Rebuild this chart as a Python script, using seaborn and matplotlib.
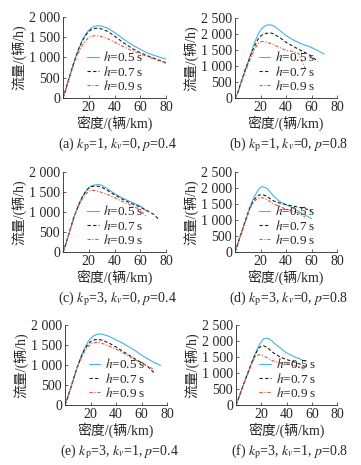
import matplotlib
matplotlib.use("Agg")
import matplotlib.pyplot as plt
from matplotlib.ticker import FuncFormatter
import seaborn as sns

# -----------------------
# Data
# -----------------------
# density grid (veh/km); each curve uses the first len(flow) points
dens = [0, 2, 5, 8, 10, 12, 15, 18, 20, 22, 25, 28, 30, 35, 40, 45, 50, 55, 60, 65, 70, 75, 80]

# (a) kp=1, kv=0, p=0.4
a_h05 = [0, 200, 520, 830, 1020, 1200, 1420, 1590, 1670, 1730, 1775, 1785, 1775, 1720, 1620, 1500, 1390, 1290, 1200, 1120, 1060, 1010, 960]
a_h07 = [0, 200, 520, 830, 1020, 1195, 1410, 1570, 1640, 1690, 1720, 1720, 1705, 1640, 1530, 1410, 1300, 1200, 1120, 1050, 990, 930, 870]
a_h09 = [0, 190, 500, 790, 970, 1120, 1300, 1430, 1490, 1525, 1540, 1530, 1515, 1460, 1380, 1300, 1220, 1150, 1090, 1030, 970, 915, 860]

# (b) kp=1, kv=0, p=0.8
b_h05 = [0, 150, 520, 880, 1100, 1340, 1700, 1980, 2120, 2210, 2280, 2285, 2260, 2120, 1950, 1830, 1730, 1650, 1580, 1480, 1370]
b_h07 = [0, 150, 520, 880, 1090, 1300, 1600, 1830, 1930, 1990, 2025, 2030, 2010, 1890, 1740, 1630, 1520, 1420, 1310, 1140]
b_h09 = [0, 140, 480, 820, 1020, 1220, 1500, 1700, 1755, 1765, 1745, 1700, 1670, 1580, 1490, 1460, 1390, 930]

# (c) kp=3, kv=0, p=0.4
c_h05 = [0, 180, 500, 820, 1000, 1170, 1380, 1530, 1600, 1650, 1680, 1685, 1670, 1570, 1460, 1370, 1290, 1220, 1150, 1020]
c_h07 = [0, 180, 500, 820, 1000, 1170, 1380, 1530, 1600, 1635, 1650, 1640, 1620, 1530, 1430, 1340, 1260, 1190, 1120, 1040, 950, 800]
c_h09 = [0, 180, 490, 800, 980, 1140, 1330, 1460, 1520, 1540, 1535, 1510, 1490, 1430, 1360, 1280, 1210, 1140, 1050, 870]

# (d) kp=3, kv=0, p=0.8
d_h05 = [0, 240, 600, 960, 1200, 1430, 1720, 1930, 2020, 2040, 1990, 1860, 1760, 1580, 1480, 1380, 1270, 1160, 1040]
d_h07 = [0, 240, 600, 960, 1200, 1420, 1640, 1760, 1790, 1790, 1740, 1650, 1600, 1530, 1480, 1440, 1400, 1350, 1300]
d_h09 = [0, 230, 580, 930, 1160, 1370, 1580, 1680, 1700, 1690, 1640, 1560, 1510, 1420, 1340, 1280, 1220, 1090]

# (e) kp=3, kv=1, p=0.4
e_h05 = [0, 180, 480, 790, 980, 1160, 1390, 1580, 1660, 1720, 1770, 1775, 1765, 1710, 1630, 1550, 1460, 1360, 1250, 1150, 1060, 990]
e_h07 = [0, 180, 480, 790, 980, 1150, 1370, 1520, 1580, 1620, 1640, 1630, 1610, 1540, 1450, 1350, 1250, 1150, 1060, 960, 800]
e_h09 = [0, 175, 470, 770, 950, 1110, 1320, 1460, 1520, 1550, 1565, 1555, 1530, 1470, 1400, 1310, 1220, 1130, 1050, 970, 880]

# (f) kp=3, kv=1, p=0.8
f_h05 = [0, 210, 540, 860, 1070, 1280, 1580, 1850, 1980, 2070, 2090, 2020, 1940, 1780, 1630, 1530, 1450, 1360]
f_h07 = [0, 210, 540, 860, 1070, 1280, 1560, 1780, 1840, 1850, 1790, 1680, 1620, 1500, 1420, 1360, 1290, 1200]
f_h09 = [0, 200, 520, 840, 1040, 1240, 1500, 1570, 1560, 1530, 1470, 1400, 1370, 1320, 1300, 1250, 1190, 1105]

h_labels = [r"$h$=0.5 s", r"$h$=0.7 s", r"$h$=0.9 s"]
captions = [
    r"(a) $k_{\mathrm{p}}$=1, $k_v$=0, $p$=0.4",
    r"(b) $k_{\mathrm{p}}$=1, $k_v$=0, $p$=0.8",
    r"(c) $k_{\mathrm{p}}$=3, $k_v$=0, $p$=0.4",
    r"(d) $k_{\mathrm{p}}$=3, $k_v$=0, $p$=0.8",
    r"(e) $k_{\mathrm{p}}$=3, $k_v$=1, $p$=0.4",
    r"(f) $k_{\mathrm{p}}$=3, $k_v$=1, $p$=0.8",
]
panels = [
    (a_h05, a_h07, a_h09),
    (b_h05, b_h07, b_h09),
    (c_h05, c_h07, c_h09),
    (d_h05, d_h07, d_h09),
    (e_h05, e_h07, e_h09),
    (f_h05, f_h07, f_h09),
]
y_tops = [2000, 2500, 2000, 2500, 2000, 2500]

# -----------------------
# Style
# -----------------------
sns.set_style("ticks")
plt.rcParams['font.family'] = ['Liberation Serif', 'Noto Sans CJK SC']
plt.rcParams['mathtext.fontset'] = 'stix'
plt.rcParams['axes.linewidth'] = 0.6

colors = ['#45b3e3', '#222222', '#e4583c']
styles = ['-', (0, (3, 2)), (0, (3, 1.5, 1, 1.5))]

# axes rectangles [left, bottom, width, height] in figure fractions
W, H = 361, 465
rects = [
    [63 / W, 1 - 98 / H, 103 / W, 81 / H],
    [235 / W, 1 - 98 / H, 102 / W, 80 / H],
    [63 / W, 1 - 252 / H, 103 / W, 80 / H],
    [235 / W, 1 - 252 / H, 102 / W, 80 / H],
    [65 / W, 1 - 405 / H, 102 / W, 80 / H],
    [236 / W, 1 - 405 / H, 101 / W, 80 / H],
]

fmt = FuncFormatter(lambda v, p: f"{int(v):,}".replace(",", " "))

fig = plt.figure(figsize=(W / 100, H / 100), dpi=100)
for rect, series, top, cap in zip(rects, panels, y_tops, captions):
    ax = fig.add_axes(rect)
    for flow, c, ls, lab in zip(series, colors, styles, h_labels):
        sns.lineplot(x=dens[:len(flow)], y=flow, ax=ax, color=c, linestyle=ls,
                     lw=0.8, label=lab, estimator=None, sort=False)
    ax.set_xlim(0, 80)
    ax.set_ylim(0, top)
    ax.set_xticks([20, 40, 60, 80])
    ax.set_yticks(list(range(0, top + 1, 500)))
    ax.yaxis.set_major_formatter(fmt)
    sns.despine(ax=ax)
    ax.tick_params(direction='in', length=2, width=0.5, labelsize=10, pad=2)
    ax.set_ylabel('流量/(辆/h)', fontsize=10, labelpad=1)
    ax.set_xlabel('密度/(辆/km)', fontsize=10, labelpad=1)
    ax.text(0.53, -0.58, cap, transform=ax.transAxes, ha='center', va='center', fontsize=10)
    ax.legend(loc='lower left', bbox_to_anchor=(0.14, -0.05), frameon=False, fontsize=9.5,
              handlelength=0.9, handletextpad=0.35, labelspacing=0.02, borderpad=0.2)

fig.savefig('out.png', dpi=100)
